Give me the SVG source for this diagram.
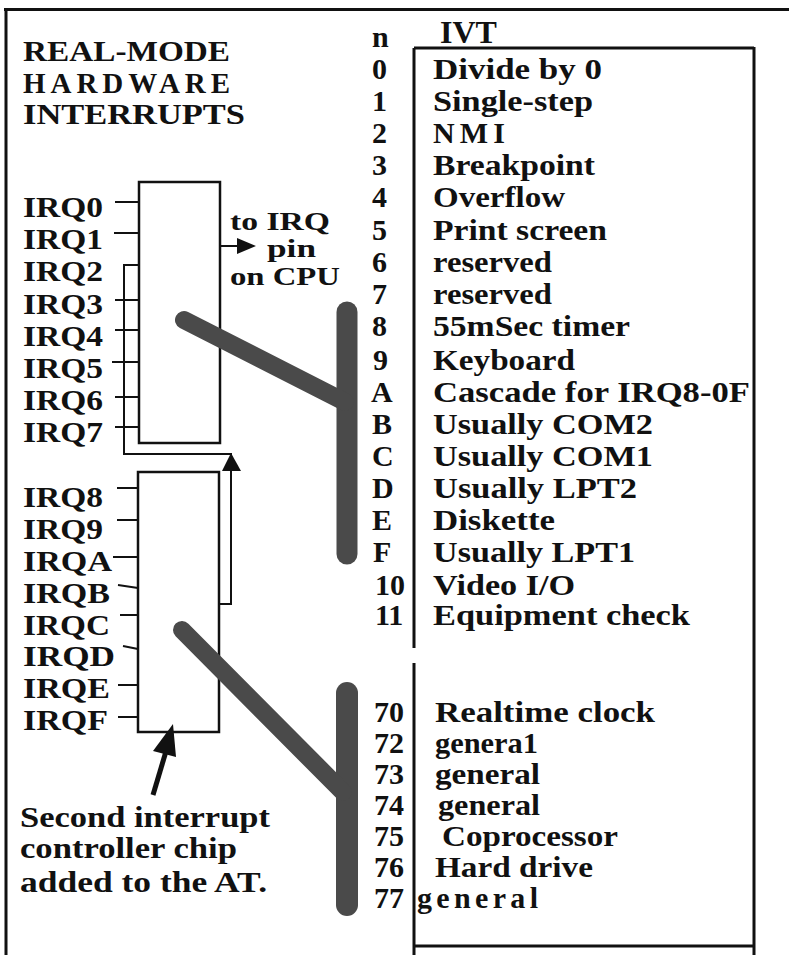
<svg xmlns="http://www.w3.org/2000/svg" width="789" height="955" viewBox="0 0 789 955">
<style>
text{font-family:"Liberation Serif","Times New Roman",serif;font-weight:bold;fill:#111}
.t{font-size:30px}
.ttl{font-size:29px}
.num{font-size:30px}
.irq{font-size:29px}
.cpu{font-size:26px}
.frame{fill:none;stroke:#111;stroke-width:3}
.chip{fill:#fff;stroke:#111;stroke-width:2.5}
.wire{fill:none;stroke:#111;stroke-width:2}
.bus{fill:none;stroke:#4a4a4a;stroke-linecap:round}
</style>
<rect x="0" y="0" width="789" height="955" fill="#fff"/>
<g id="frame">
<line class="frame" x1="4" y1="9.5" x2="789" y2="9.5"/>
<line class="frame" x1="6" y1="8" x2="6" y2="955"/>
</g>
<g id="title">
<text class="ttl" x="23" y="61" textLength="207" lengthAdjust="spacingAndGlyphs">REAL-MODE</text>
<text class="ttl" x="23" y="93" textLength="207" lengthAdjust="spacing">HARDWARE</text>
<text class="ttl" x="23" y="124" textLength="222" lengthAdjust="spacingAndGlyphs">INTERRUPTS</text>
</g>
<g id="ivt">
<path class="frame" d="M414 48H754M414 48V648M414 663V955M754 47V955M414 946H754"/>
<text x="440" y="43" style="font-size:32px">IVT</text>
<text class="num" x="372" y="47">n</text>
<g>
<text class="num" x="372" y="79">0</text>
<text class="num" x="372" y="111">1</text>
<text class="num" x="372" y="143">2</text>
<text class="num" x="372" y="175">3</text>
<text class="num" x="372" y="207">4</text>
<text class="num" x="372" y="240">5</text>
<text class="num" x="372" y="272">6</text>
<text class="num" x="372" y="304">7</text>
<text class="num" x="372" y="336">8</text>
<text class="num" x="373" y="370">9</text>
<text class="num" x="371" y="402">A</text>
<text class="num" x="372" y="434">B</text>
<text class="num" x="372" y="466">C</text>
<text class="num" x="372" y="498">D</text>
<text class="num" x="372" y="530">E</text>
<text class="num" x="373" y="562">F</text>
<text class="num" x="375" y="595">10</text>
<text class="num" x="375" y="625">11</text>
<text class="num" x="374" y="722">70</text>
<text class="num" x="374" y="753">72</text>
<text class="num" x="374" y="784">73</text>
<text class="num" x="374" y="815">74</text>
<text class="num" x="374" y="846">75</text>
<text class="num" x="374" y="877">76</text>
<text class="num" x="374" y="908">77</text>
</g>
<text class="t" x="433" y="79" textLength="169" lengthAdjust="spacingAndGlyphs">Divide by 0</text>
<text class="t" x="433" y="111" textLength="160" lengthAdjust="spacingAndGlyphs">Single-step</text>
<text class="t" x="433" y="143" textLength="72" lengthAdjust="spacing">NMI</text>
<text class="t" x="433" y="175" textLength="162" lengthAdjust="spacingAndGlyphs">Breakpoint</text>
<text class="t" x="433" y="207" textLength="132" lengthAdjust="spacingAndGlyphs">Overflow</text>
<text class="t" x="433" y="240" textLength="174" lengthAdjust="spacingAndGlyphs">Print screen</text>
<text class="t" x="433" y="272" textLength="119" lengthAdjust="spacingAndGlyphs">reserved</text>
<text class="t" x="433" y="304" textLength="119" lengthAdjust="spacingAndGlyphs">reserved</text>
<text class="t" x="433" y="336" textLength="197" lengthAdjust="spacingAndGlyphs">55mSec timer</text>
<text class="t" x="433" y="370" textLength="142" lengthAdjust="spacingAndGlyphs">Keyboard</text>
<text class="t" x="433" y="402" textLength="317" lengthAdjust="spacingAndGlyphs">Cascade for IRQ8-0F</text>
<text class="t" x="433" y="434" textLength="220" lengthAdjust="spacingAndGlyphs">Usually COM2</text>
<text class="t" x="433" y="466" textLength="220" lengthAdjust="spacingAndGlyphs">Usually COM1</text>
<text class="t" x="433" y="498" textLength="204" lengthAdjust="spacingAndGlyphs">Usually LPT2</text>
<text class="t" x="433" y="530" textLength="122" lengthAdjust="spacingAndGlyphs">Diskette</text>
<text class="t" x="433" y="562" textLength="202" lengthAdjust="spacingAndGlyphs">Usually LPT1</text>
<text class="t" x="433" y="595" textLength="142" lengthAdjust="spacingAndGlyphs">Video I/O</text>
<text class="t" x="433" y="625" textLength="257" lengthAdjust="spacingAndGlyphs">Equipment check</text>
<text class="t" x="435" y="722" textLength="220" lengthAdjust="spacingAndGlyphs">Realtime clock</text>
<text class="t" x="435" y="753" textLength="103" lengthAdjust="spacingAndGlyphs">genera1</text>
<text class="t" x="435" y="784" textLength="105" lengthAdjust="spacingAndGlyphs">general</text>
<text class="t" x="438" y="815" textLength="102" lengthAdjust="spacingAndGlyphs">general</text>
<text class="t" x="442" y="846" textLength="176" lengthAdjust="spacingAndGlyphs">Coprocessor</text>
<text class="t" x="435" y="877" textLength="158" lengthAdjust="spacingAndGlyphs">Hard drive</text>
<text class="t" x="417" y="908" textLength="121" lengthAdjust="spacing">general</text>
</g>
<g id="chip1">
<rect class="chip" x="139" y="182" width="81" height="261"/>
</g>
<g id="chip2">
<rect class="chip" x="138" y="472" width="81" height="260"/>
</g>
<g id="irq-labels">
<text class="irq" x="23" y="217" textLength="80" lengthAdjust="spacingAndGlyphs">IRQ0</text>
<text class="irq" x="23" y="249" textLength="80" lengthAdjust="spacingAndGlyphs">IRQ1</text>
<text class="irq" x="23" y="281" textLength="80" lengthAdjust="spacingAndGlyphs">IRQ2</text>
<text class="irq" x="23" y="314" textLength="80" lengthAdjust="spacingAndGlyphs">IRQ3</text>
<text class="irq" x="23" y="346" textLength="80" lengthAdjust="spacingAndGlyphs">IRQ4</text>
<text class="irq" x="23" y="378" textLength="80" lengthAdjust="spacingAndGlyphs">IRQ5</text>
<text class="irq" x="23" y="410" textLength="80" lengthAdjust="spacingAndGlyphs">IRQ6</text>
<text class="irq" x="23" y="442" textLength="80" lengthAdjust="spacingAndGlyphs">IRQ7</text>
<text class="irq" x="23" y="507" textLength="80" lengthAdjust="spacingAndGlyphs">IRQ8</text>
<text class="irq" x="23" y="539" textLength="80" lengthAdjust="spacingAndGlyphs">IRQ9</text>
<text class="irq" x="23" y="571" textLength="89" lengthAdjust="spacingAndGlyphs">IRQA</text>
<text class="irq" x="23" y="603" textLength="87" lengthAdjust="spacingAndGlyphs">IRQB</text>
<text class="irq" x="23" y="635" textLength="87" lengthAdjust="spacingAndGlyphs">IRQC</text>
<text class="irq" x="23" y="666" textLength="92" lengthAdjust="spacingAndGlyphs">IRQD</text>
<text class="irq" x="23" y="698" textLength="87" lengthAdjust="spacingAndGlyphs">IRQE</text>
<text class="irq" x="23" y="730" textLength="85" lengthAdjust="spacingAndGlyphs">IRQF</text>
</g>
<g id="cpu-label">
<text class="cpu" x="230" y="230" textLength="100" lengthAdjust="spacingAndGlyphs">to IRQ</text>
<text class="cpu" x="267" y="257" textLength="49" lengthAdjust="spacingAndGlyphs">pin</text>
<text class="cpu" x="230" y="285" textLength="110" lengthAdjust="spacingAndGlyphs">on CPU</text>
</g>
<g id="note">
<text class="t" x="20" y="827" textLength="250" lengthAdjust="spacingAndGlyphs">Second interrupt</text>
<text class="t" x="20" y="858" textLength="217" lengthAdjust="spacingAndGlyphs">controller chip</text>
<text class="t" x="20" y="892" textLength="247" lengthAdjust="spacingAndGlyphs">added to the AT.</text>
</g>
<g id="connectors">
<path class="wire" d="M115 202H139M114 233H139M115 300H139M115 330H139M112 362H139M115 397H139M115 427H139"/>
<path class="wire" d="M117 488H138M117 520H138M113 557H138M118 585L138 588M120 615H138M123 646L138 649M118 685H138M118 717H138"/>
<path class="wire" d="M139 265H124V454H232"/>
<path class="wire" d="M219 604H231V468"/>
<polygon points="231,453 222,471 241,471" fill="#111"/>
<line class="wire" x1="220" y1="246" x2="240" y2="246"/>
<polygon points="256,246 237,238 237,254" fill="#111"/>
<line x1="153" y1="795" x2="167" y2="748" stroke="#111" stroke-width="5"/>
<polygon points="173,724 176,757 153,751" fill="#111"/>
<line class="bus" x1="347" y1="312" x2="347" y2="554" stroke-width="21"/>
<line class="bus" x1="184" y1="320" x2="345" y2="402" stroke-width="18"/>
<line class="bus" x1="347" y1="693" x2="347" y2="905" stroke-width="22"/>
<line class="bus" x1="182" y1="630" x2="343" y2="792" stroke-width="18"/>
</g>
</svg>
